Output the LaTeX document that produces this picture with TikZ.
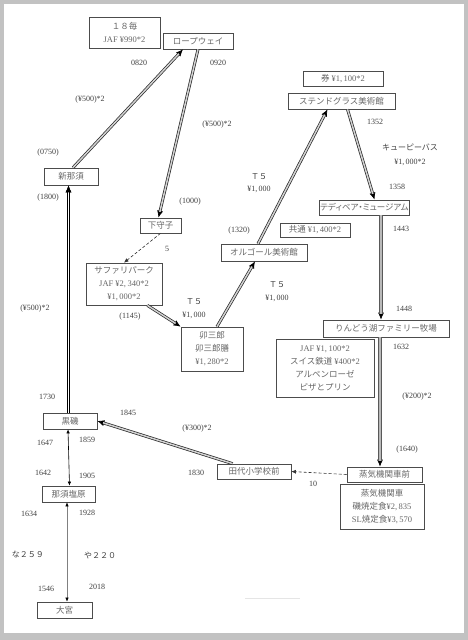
\documentclass[tikz,border=0pt]{standalone}
\usepackage{fontspec}
\setmainfont{Liberation Serif}
\newfontfamily\jp{Noto Sans CJK JP}
\newfontfamily\jpp[RawFeature=+palt]{Noto Sans CJK JP}
\usetikzlibrary{arrows.meta}

\begin{document}
\begin{tikzpicture}[x=1pt, y=-1pt]
        \tikzstyle{stop} = [rectangle, draw=black!70, line width=0.7pt, fill=white, text=black!60, inner sep=1pt, align=center, minimum height=16pt, font=\jp\fontsize{8.5}{13}\selectfont]
        \tikzstyle{lbl} = [inner sep=0pt, text=black!75, font=\fontsize{8}{9}\selectfont]
        \tikzstyle{ride} = [draw=black!85, line width=0.7pt, -{Latex[length=7pt,width=6pt,black]}, postaction={draw=black!85, double=gray!35, double distance=1.5pt, shorten >=6pt, arrows=-}]
        \tikzstyle{walkway} = [draw=gray!70!black, line width=0.7pt, -{Latex[length=7pt,width=6pt,black]}, postaction={draw=gray!70!black, double=gray!55, double distance=2pt, shorten >=6pt, arrows=-}]
        \tikzstyle{stroll} = [densely dashed, black!80, line width=0.6pt, -{Latex[length=4.5pt,width=4pt]}]
        \tikzstyle{train} = [line width=0.6pt, {Latex[length=4pt,width=3.5pt,black]}-{Latex[length=4pt,width=3.5pt,black]}]

        \useasboundingbox (0,0) rectangle (468,640);
        \fill[black!24] (0,0) rectangle (468,640);
        \fill[white] (4,4) rectangle (464,633);
        \draw[black!10] (245,598) -- (300,598);

        % left column
        \node[stop, minimum width=71pt, minimum height=31pt] (maihi) at (124.5,32.5) {１８毎\\\textrm{JAF ¥990*2}};
        \node[stop, minimum width=70pt] (ropeway) at (198,41) {ロープウェイ};
        \node[stop, minimum width=54pt, minimum height=17pt] (shinnasu) at (71,176.5) {新那須};
        \node[stop, minimum width=41pt, minimum height=15pt] (shimo) at (160.5,225.5) {下守子};
        \node[stop, minimum width=76pt, minimum height=42pt] (safari) at (124,284) {サファリパーク\\\textrm{JAF ¥2,\,340*2}\\\textrm{¥1,\,000*2}};
        \node[stop, minimum width=62pt, minimum height=44pt] (usaburo) at (212,349) {卯三郎\\卯三郎膳\\\textrm{¥1,\,280*2}};
        \node[stop, minimum width=86pt, minimum height=17pt] (orgel) at (264,252.5) {オルゴール美術館};
        \node[stop, minimum width=54pt] (kuroiso) at (70,421) {黒磯};
        \node[stop, minimum width=53pt] (shiobara) at (68.5,494) {那須塩原};
        \node[stop, minimum width=55pt] (omiya) at (64.5,610) {大宮};
        \node[stop, minimum width=74pt, minimum height=15pt] (tashiro) at (254,471.5) {田代小学校前};

        % right column
        \node[stop, minimum width=80pt, minimum height=15pt] (ken) at (343,78.5) {券 \textrm{¥1,\,100*2}};
        \node[stop, minimum width=107pt] (stained) at (341.5,101) {ステンドグラス美術館};
        \node[stop, minimum width=89pt, minimum height=15pt, font=\jpp\fontsize{8.5}{13}\selectfont] (teddy) at (364.5,207.5) {テディベア・ミュージアム};
        \node[stop, minimum width=70pt, minimum height=14pt] (kyotsu) at (315,230) {共通 \textrm{¥1,\,400*2}};
        \node[stop, minimum width=126pt, minimum height=17pt] (rindo) at (386,328.5) {りんどう湖ファミリー牧場};
        \node[stop, minimum width=98pt, minimum height=58pt] (swiss) at (325,368) {\textrm{JAF ¥1,\,100*2}\\スイス鉄道 \textrm{¥400*2}\\アルペンローゼ\\ピザとプリン};
        \node[stop, minimum width=75pt, minimum height=15pt] (joki) at (384.5,474.5) {蒸気機関車前};
        \node[stop, minimum width=84pt, minimum height=45pt] (jokiinfo) at (382,506.5) {蒸気機関車\\磯焼定食\textrm{¥2,\,835}\\\textrm{SL}焼定食\textrm{¥3,\,570}};

        % times and fares
        \foreach \x/\y/\t [count=\k] in {
            139/63/0820, 218/63/0920, 90/100/{(¥500)*2}, 217/125/{(¥500)*2},
            48/153/(0750), 48/198/(1800), 190/202/(1000), 167/249/5,
            130/317/(1145), 194/302/{\jp Ｔ５}, 194/315/{¥1,\,000},
            259/177/{\jp Ｔ５}, 259/189/{¥1,\,000}, 239/231/(1320),
            277/285/{\jp Ｔ５}, 277/298/{¥1,\,000},
            375/122/1352, 410/147/{\jp キューピーバス}, 410/162/{¥1,\,000*2},
            397/187/1358, 401/229/1443, 404/309/1448, 401/347/1632,
            417/397/{(¥200)*2}, 407/450/(1640), 313/484/10,
            35/309/{(¥500)*2}, 47/397/1730, 128/413/1845, 197/429/{(¥300)*2},
            45/443/1647, 87/440/1859, 43/473/1642, 87/476/1905, 196/473/1830,
            29/514/1634, 87/513/1928, 28/554/{\jp な２５９}, 100/555/{\jp や２２０},
            46/589/1546, 97/587/2018
        } {
            \node[lbl] (lbl\k) at (\x,\y) {\t};
        }

        \draw[ride] ([xshift=2pt]shinnasu.north) -- ([xshift=-15pt]ropeway.south);
        \draw[ride, postaction={double distance=2pt}] (ropeway.south) -- ([xshift=-2pt]shimo.north);
        \draw[stroll] (shimo.south) -- (safari.north);
        \draw[ride] ([xshift=-15pt]safari.south east) -- (usaburo.north west);
        \draw[ride] ([xshift=5pt]usaburo.north) -- ([xshift=-9pt]orgel.south);
        \draw[ride] ([xshift=-6pt]orgel.north) -- ([xshift=-14pt]stained.south);
        \draw[ride] ([xshift=6pt]stained.south) -- ([xshift=10pt]teddy.north);
        \draw[walkway] ([xshift=16.5pt]teddy.south) -- ([xshift=-5pt]rindo.north);
        \draw[walkway] ([xshift=-6pt]rindo.south) -- ([xshift=-4.5pt]joki.north);
        \draw[stroll] (joki.west) -- (tashiro.east);
        \draw[ride] ([xshift=16pt]tashiro.north west) -- (kuroiso.east);
        \draw[ride, draw=black, line width=0.8pt, postaction={draw=black, double=white, double distance=1.8pt}] ([xshift=-1.5pt]kuroiso.north) -- ([xshift=-1.5pt]kuroiso.north |- shinnasu.south);
        \draw[train] ([xshift=-2pt]kuroiso.south) -- ([xshift=-0.5pt]kuroiso.south |- shiobara.north);
        \draw[train, gray] ([xshift=-1.5pt]shiobara.south) -- ([xshift=-1.5pt]shiobara.south |- omiya.north);
\end{tikzpicture}
\end{document}
